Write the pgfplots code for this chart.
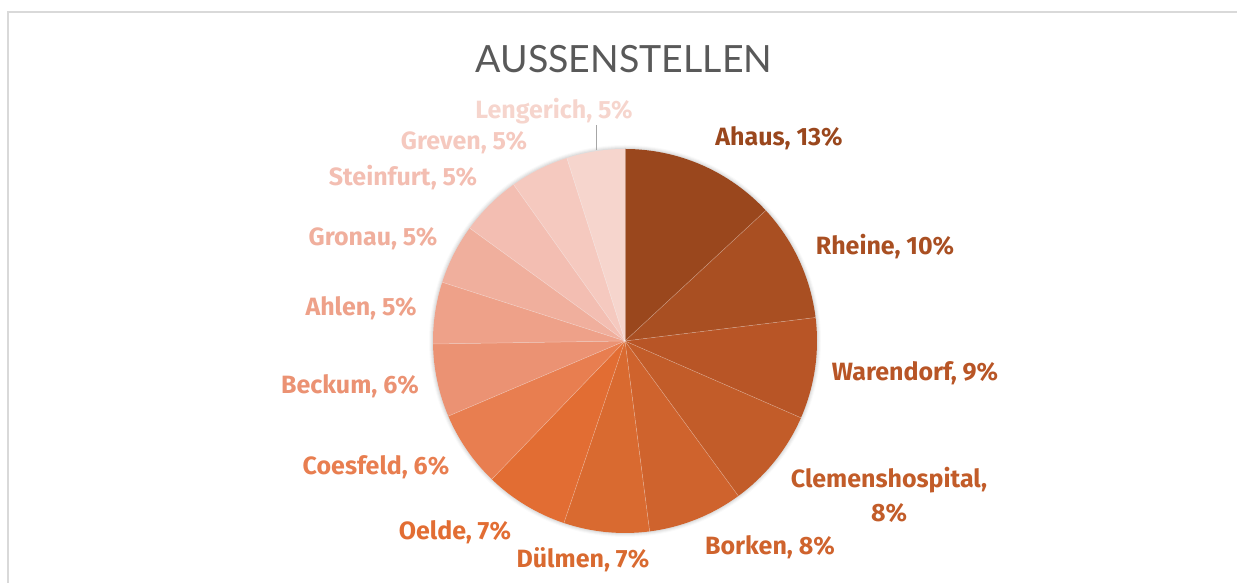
\documentclass[border=0pt]{standalone}
\usepackage{pgfplots}
\pgfplotsset{compat=1.18}
\usepackage{pgfplotstable}
\usepackage{fontspec}
\setmainfont{Lato}
\newfontfamily\lblfont{Fira Sans}
\definecolor{titlegray}{HTML}{595959}
\definecolor{framegray}{HTML}{D9D9D9}
\definecolor{cAhaus}{HTML}{9A471D}
\definecolor{cRheine}{HTML}{A94F22}
\definecolor{cWarendorf}{HTML}{B85526}
\definecolor{cClemens}{HTML}{C25C29}
\definecolor{cBorken}{HTML}{CF632D}
\definecolor{cDuelmen}{HTML}{D96A30}
\definecolor{cOelde}{HTML}{E26D33}
\definecolor{cCoesfeld}{HTML}{E87E50}
\definecolor{cBeckum}{HTML}{EB9273}
\definecolor{cAhlen}{HTML}{EEA189}
\definecolor{cGronau}{HTML}{F0AF9D}
\definecolor{cSteinfurt}{HTML}{F3BEB2}
\definecolor{cGreven}{HTML}{F5C9BF}
\definecolor{cLengerich}{HTML}{F6D5CD}
\pgfplotstableread{
name value col
Ahaus 13.10 cAhaus
Rheine 9.95 cRheine
Warendorf 8.50 cWarendorf
Clemenshospital 8.40 cClemens
Borken 8.00 cBorken
Duelmen 7.20 cDuelmen
Oelde 7.05 cOelde
Coesfeld 6.40 cCoesfeld
Beckum 6.15 cBeckum
Ahlen 5.20 cAhlen
Gronau 5.05 cGronau
Steinfurt 5.15 cSteinfurt
Greven 4.95 cGreven
Lengerich 4.90 cLengerich
}\piedata
\begin{document}
\begin{tikzpicture}
\begin{axis}[
  at={(0,0)}, anchor=south west,
  scale only axis, width=742.2pt, height=349.8pt,
  xmin=0, xmax=1237, ymin=0, ymax=583,
  hide axis, clip=false,
]
\pgfplotsextra{
  % frame
  \draw[framegray, line width=0.9pt] (axis cs:8,0) -- (axis cs:8,571) -- (axis cs:1237,571);
  % soft shadow
  \foreach \k/\op in {4/0.02,3/0.03,2/0.04,1/0.05}{
    \fill[black, opacity=\op] (axis cs:625,242) circle[radius=115.2pt+\k*0.6pt];
  }
  \gdef\cum{0}
  \pgfplotstablegetrowsof{\piedata}
  \pgfmathtruncatemacro\nrows{\pgfplotsretval-1}
  \foreach \i in {0,...,\nrows}{
    \pgfplotstablegetelem{\i}{value}\of\piedata
    \let\v\pgfplotsretval
    \pgfplotstablegetelem{\i}{col}\of\piedata
    \let\c\pgfplotsretval
    \pgfmathsetmacro\aone{90-3.6*\cum}
    \pgfmathsetmacro\atwo{90-3.6*(\cum+\v)}
    \fill[\c] (axis cs:625,242) -- ++(\aone:115.2pt) arc[start angle=\aone, end angle=\atwo, radius=115.2pt] -- cycle;
    \pgfmathsetmacro\newcum{\cum+\v}
    \xdef\cum{\newcum}
  }
  % thin separators
  \gdef\cum{0}
  \foreach \i in {0,...,\nrows}{
    \pgfplotstablegetelem{\i}{value}\of\piedata
    \let\v\pgfplotsretval
    \pgfmathsetmacro\aone{90-3.6*\cum}
    \draw[white, opacity=0.35, line width=0.3pt] (axis cs:625,242) -- ++(\aone:115.2pt);
    \pgfmathsetmacro\newcum{\cum+\v}
    \xdef\cum{\newcum}
  }
  % leader line
  \draw[gray!70, line width=0.6pt] (axis cs:596,458) -- (axis cs:596,433);
}
% title
\node[titlegray, font=\fontsize{22.5}{26}\selectfont, anchor=center] at (axis cs:624,524) {AUSSENSTELLEN};
% labels
\tikzset{lbl/.style={font=\lblfont\fontsize{15}{20.4}\selectfont\bfseries, anchor=center, inner sep=0pt, align=center}}
\node[lbl, text=cAhaus]      at (axis cs:779,445) {Ahaus, 13\%};
\node[lbl, text=cRheine]     at (axis cs:885,336) {Rheine, 10\%};
\node[lbl, text=cWarendorf]  at (axis cs:915,210) {Warendorf, 9\%};
\node[lbl, text=cClemens]    at (axis cs:889,88)  {Clemenshospital,\\8\%};
\node[lbl, text=cBorken]     at (axis cs:770,36)  {Borken, 8\%};
\node[lbl, text=cDuelmen]    at (axis cs:583,23)  {Dülmen, 7\%};
\node[lbl, text=cOelde]      at (axis cs:455,51)  {Oelde, 7\%};
\node[lbl, text=cCoesfeld]   at (axis cs:376,116) {Coesfeld, 6\%};
\node[lbl, text=cBeckum]     at (axis cs:350,197) {Beckum, 6\%};
\node[lbl, text=cAhlen]      at (axis cs:361,275) {Ahlen, 5\%};
\node[lbl, text=cGronau]     at (axis cs:373,344) {Gronau, 5\%};
\node[lbl, text=cSteinfurt]  at (axis cs:403,405) {Steinfurt, 5\%};
\node[lbl, text=cGreven]     at (axis cs:464,440) {Greven, 5\%};
\node[lbl, text=cLengerich]  at (axis cs:554,472) {Lengerich, 5\%};
\end{axis}
\pgfresetboundingbox
\useasboundingbox (0,0) rectangle (742.2pt,349.8pt);
\end{tikzpicture}
\end{document}
